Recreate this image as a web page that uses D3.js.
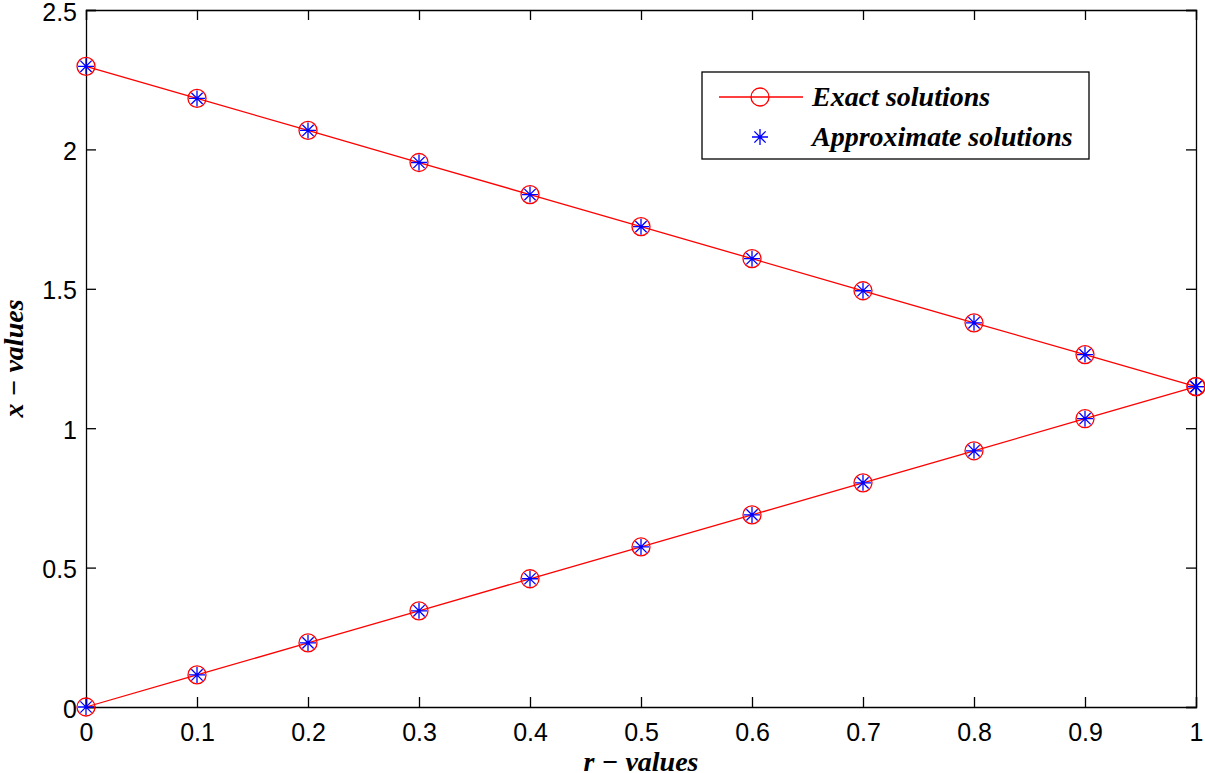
<!DOCTYPE html>
<html>
<head>
<meta charset="utf-8">
<script src="https://cdn.jsdelivr.net/npm/d3@7"></script>
<style>
  body { margin: 0; background: #fff; }
  svg { display: block; }
</style>
</head>
<body>
<div id="chart"></div>
<script>
// data
var rValues = [0, 0.1, 0.2, 0.3, 0.4, 0.5, 0.6, 0.7, 0.8, 0.9, 1.0];
var upperExact = [2.298, 2.183, 2.068, 1.953, 1.838, 1.723, 1.608, 1.493, 1.378, 1.264, 1.149];
var lowerExact = [0, 0.115, 0.230, 0.345, 0.460, 0.574, 0.689, 0.804, 0.919, 1.034, 1.149];
var upperApprox = [2.298, 2.183, 2.068, 1.953, 1.838, 1.723, 1.608, 1.493, 1.378, 1.264, 1.149];
var lowerApprox = [0, 0.115, 0.230, 0.345, 0.460, 0.574, 0.689, 0.804, 0.919, 1.034, 1.149];
var xTicks = [0, 0.1, 0.2, 0.3, 0.4, 0.5, 0.6, 0.7, 0.8, 0.9, 1];
var yTicks = [0, 0.5, 1, 1.5, 2, 2.5];
var legendLabels = ["Exact solutions", "Approximate solutions"];

var W = 1205, H = 773;
var margin = {top: 10, right: 9, bottom: 66, left: 86};
var width = W - margin.left - margin.right,
    height = H - margin.top - margin.bottom;

var svg = d3.select("#chart").append("svg")
    .attr("width", W)
    .attr("height", H);

var g = svg.append("g")
    .attr("transform", "translate(" + margin.left + "," + margin.top + ")");

var x = d3.scaleLinear().domain([0, 1]).range([0, width]);
var y = d3.scaleLinear().domain([0, 2.5]).range([height, 0]);

var tickLen = 10;
var tickFont = "Liberation Sans, Arial, sans-serif";
var serif = "Liberation Serif, Times New Roman, serif";

// axes: bottom/left with labels, top/right just ticks (matlab box)
var axB = g.append("g").attr("transform", "translate(0," + height + ")")
    .call(d3.axisBottom(x).tickValues(xTicks).tickSize(-tickLen).tickPadding(16).tickFormat(d3.format("")));
var axL = g.append("g")
    .call(d3.axisLeft(y).tickValues(yTicks).tickSize(-tickLen).tickPadding(9).tickFormat(d3.format("")));
var axT = g.append("g")
    .call(d3.axisTop(x).tickValues(xTicks).tickSize(-tickLen).tickFormat(""));
var axR = g.append("g").attr("transform", "translate(" + width + ",0)")
    .call(d3.axisRight(y).tickValues(yTicks).tickSize(-tickLen).tickFormat(""));

[axB, axL, axT, axR].forEach(function(a) {
  a.select(".domain").attr("stroke", "#000").attr("stroke-width", 1.3);
  a.selectAll(".tick line").attr("stroke", "#000").attr("stroke-width", 1.3);
  a.selectAll(".tick text")
    .attr("fill", "#000")
    .style("font-family", tickFont)
    .style("font-size", "25px");
});
axL.selectAll(".tick text").attr("dy", "0.4em");

// lines
var line = d3.line()
    .x(function(d) { return x(d[0]); })
    .y(function(d) { return y(d[1]); });

[upperExact, lowerExact].forEach(function(series) {
  var pts = rValues.map(function(r, i) { return [r, series[i]]; });
  g.append("path")
    .datum(pts)
    .attr("fill", "none")
    .attr("stroke", "#ff0000")
    .attr("stroke-width", 1.3)
    .attr("d", line);
  g.selectAll(null)
    .data(pts)
    .enter().append("circle")
    .attr("cx", function(d) { return x(d[0]); })
    .attr("cy", function(d) { return y(d[1]); })
    .attr("r", 9)
    .attr("fill", "none")
    .attr("stroke", "#ff0000")
    .attr("stroke-width", 1.3);
});

// asterisk marker
function star(sel, s) {
  var p = "";
  for (var k = 0; k < 4; k++) {
    var a = k * Math.PI / 4;
    var dx = s * Math.sin(a), dy = s * Math.cos(a);
    p += "M" + (-dx) + "," + (-dy) + "L" + dx + "," + dy;
  }
  sel.append("path")
    .attr("d", p)
    .attr("stroke", "#0000ff")
    .attr("stroke-width", 1.3)
    .attr("fill", "none");
}

[upperApprox, lowerApprox].forEach(function(series) {
  var pts = rValues.map(function(r, i) { return [r, series[i]]; });
  g.selectAll(null)
    .data(pts)
    .enter().append("g")
    .attr("transform", function(d) { return "translate(" + x(d[0]) + "," + y(d[1]) + ")"; })
    .each(function() { star(d3.select(this), 8); });
});

// axis titles
svg.append("text")
    .attr("x", margin.left + width / 2)
    .attr("y", 771)
    .attr("text-anchor", "middle")
    .style("font-family", serif)
    .style("font-weight", "bold")
    .style("font-style", "italic")
    .style("font-size", "28px")
    .text("r \u2212 values");

svg.append("text")
    .attr("transform", "translate(23," + (margin.top + height / 2) + ") rotate(-90)")
    .attr("text-anchor", "middle")
    .style("font-family", serif)
    .style("font-weight", "bold")
    .style("font-style", "italic")
    .style("font-size", "28px")
    .text("x \u2212 values");

// legend
var lg = svg.append("g").attr("transform", "translate(702,72)");
lg.append("rect")
    .attr("width", 387).attr("height", 87)
    .attr("fill", "#fff").attr("stroke", "#000").attr("stroke-width", 1.3);

var row1 = lg.append("g").attr("transform", "translate(0,25)");
row1.append("line").attr("x1", 17).attr("x2", 101)
    .attr("stroke", "#ff0000").attr("stroke-width", 1.3);
row1.append("circle").attr("cx", 58).attr("r", 9)
    .attr("fill", "none").attr("stroke", "#ff0000").attr("stroke-width", 1.3);

var row2 = lg.append("g").attr("transform", "translate(58,65)");
star(row2, 8);

lg.selectAll(".lt")
    .data(legendLabels)
    .enter().append("text")
    .attr("x", 110)
    .attr("y", function(d, i) { return 25 + i * 40; })
    .attr("dy", "0.33em")
    .style("font-family", serif)
    .style("font-weight", "bold")
    .style("font-style", "italic")
    .style("font-size", "28px")
    .text(function(d) { return d; });
</script>
</body>
</html>
